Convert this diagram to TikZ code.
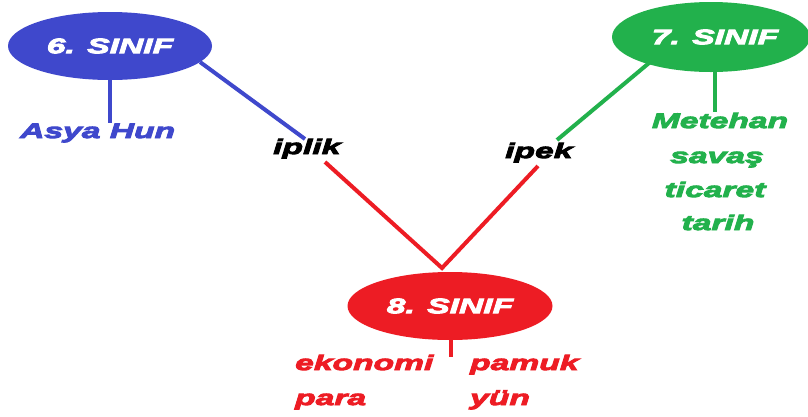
\documentclass[tikz,border=0pt]{standalone}
\usepackage{fontspec}
\newfontfamily\wf[FakeStretch=1.6,FakeBold=4.5]{Liberation Sans}
\usetikzlibrary{shapes.geometric}
\definecolor{cblue}{HTML}{3F48CC}
\definecolor{cgreen}{HTML}{22B14C}
\definecolor{cred}{HTML}{ED1C24}
\begin{document}
\begin{tikzpicture}[x=1pt,y=-1pt,
  lbl/.style={font=\wf\fontsize{21}{24}\selectfont\bfseries\itshape, inner sep=0pt},
  oval/.style={ellipse, draw=none, inner sep=0pt, text=white,
    font=\wf\fontsize{21}{24}\selectfont\bfseries\itshape},
  ln/.style={line width=4pt}]
\useasboundingbox[fill=white] (0,0) rectangle (808,416);
% anchor points for connectors
\coordinate (b0) at (200,62);
\coordinate (b1) at (305,139);
\coordinate (r1) at (325,162);
\coordinate (g1) at (655,58);
\coordinate (g2) at (557,140);
\coordinate (r2) at (538,166);
\coordinate (apex) at (442,268);
\coordinate (gv1) at (715,68);
\coordinate (gv2) at (715,112);
\coordinate (rv1) at (451,335);
\coordinate (rv2) at (451,357);
% labels
\node[lbl, text=cblue, anchor=base west] (asya) at (20,138) {Asya Hun};
\node[lbl, text=black, anchor=base west] (iplik) at (273,154) {iplik};
\node[lbl, text=black, anchor=base west] (ipek) at (505,158) {ipek};
\node[lbl, text=cgreen, anchor=base] (m1) at (720,128) {Metehan};
\node[lbl, text=cgreen, anchor=base] (m2) at (717,163) {savaş};
\node[lbl, text=cgreen, anchor=base] (m3) at (715,197) {ticaret};
\node[lbl, text=cgreen, anchor=base] (m4) at (718,230) {tarih};
\node[lbl, text=cred, anchor=base west] (eko) at (295,370) {ekonomi};
\node[lbl, text=cred, anchor=base west] (para) at (295,405) {para};
\node[lbl, text=cred, anchor=base west] (pamuk) at (470,370) {pamuk};
\node[lbl, text=cred, anchor=base west] (yun) at (470,405) {yün};
% connectors
\draw[ln, cblue] (b0) -- (b1);
\draw[ln, cred] (r1) -- (apex) -- (r2);
\draw[ln, cgreen] (g2) -- (g1);
\draw[ln, cgreen] (gv1) -- (gv2);
\draw[ln, cred] (rv1) -- (rv2);
% ovals
\node[oval, fill=cblue, minimum width=204, minimum height=68] (six) at (110,46) {6. SINIF};
\node[oval, fill=cgreen, minimum width=198, minimum height=70] (seven) at (711,37) {\hspace*{8pt}7. SINIF};
\node[oval, fill=cred, minimum width=205, minimum height=68] (eight) at (450,306) {8. SINIF};
\draw[ln, cblue] (six.south) -- (six.south |- asya.north);
\end{tikzpicture}
\end{document}
